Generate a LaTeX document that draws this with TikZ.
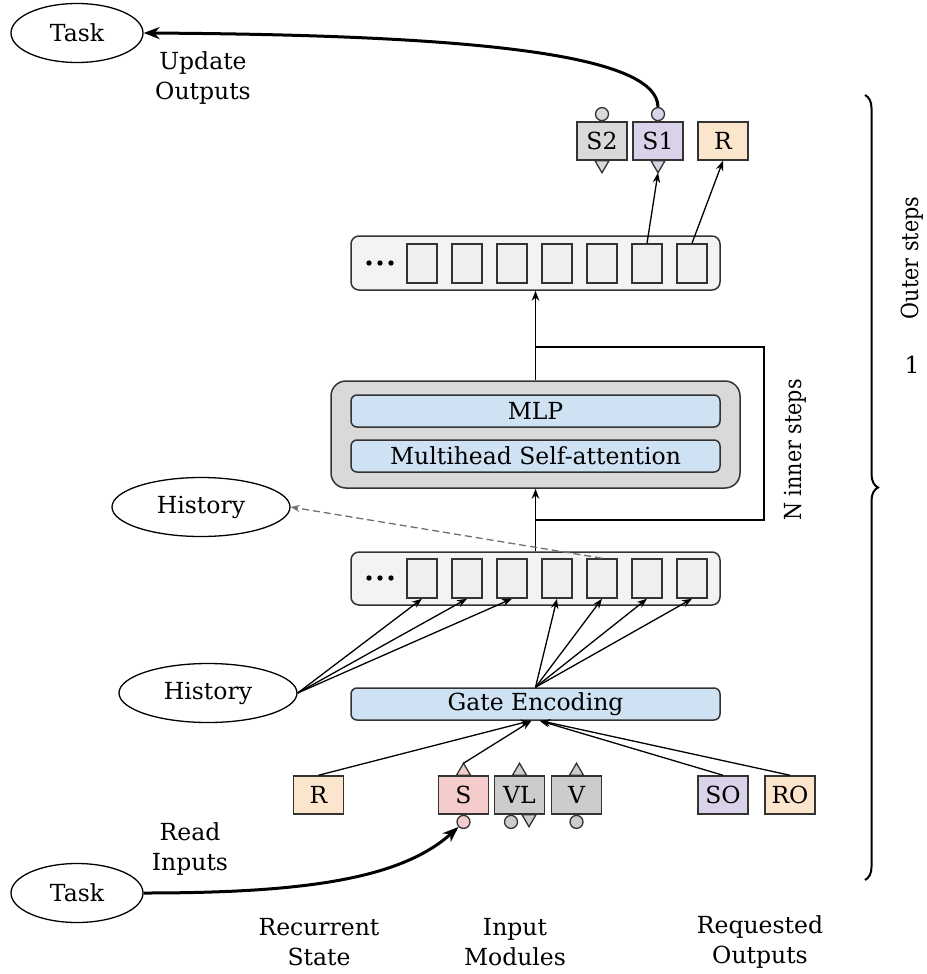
\documentclass[tikz,border=0pt]{standalone}
\usepackage{fontspec}
\setmainfont{DejaVu Serif}
\usetikzlibrary{shapes.geometric,arrows.meta,decorations.pathreplacing}
\definecolor{peach}{HTML}{FCE5CD}
\definecolor{lav}{HTML}{D9D2E9}
\definecolor{pinkc}{HTML}{F4CCCC}
\definecolor{grayA}{HTML}{D9D9D9}
\definecolor{grayB}{HTML}{CCCCCC}
\definecolor{bluec}{HTML}{CFE2F3}
\definecolor{seqc}{HTML}{F3F3F3}
\definecolor{cellc}{HTML}{EFEFEF}
\definecolor{edge}{HTML}{333333}
\definecolor{dashc}{HTML}{707070}
\begin{document}
\begin{tikzpicture}[x=1pt,y=-1pt,
  every node/.style={font=\fontsize{23.5}{30}\selectfont},
  ell/.style={ellipse, draw, line width=1.3pt, minimum width=132pt, minimum height=59pt, inner sep=0pt},
  hist/.style={ell, minimum width=178pt},
  tbox/.style={draw=edge, line width=1.5pt, minimum width=50pt, minimum height=38pt, inner sep=0pt},
  cell/.style={draw=edge, line width=1.5pt, fill=cellc, minimum width=30pt, minimum height=39pt, inner sep=0pt},
  bar/.style={draw=edge, line width=1.5pt, rounded corners=6pt, minimum width=369pt, minimum height=32pt, inner sep=0pt},
  port/.style={circle, draw=edge, line width=1.3pt, minimum size=13pt, inner sep=0pt},
  tri/.style={draw=edge, line width=1.3pt},
  conn/.style={line width=1.3pt, -{Stealth[length=10pt,width=7.5pt]}},
  big/.style={line width=3pt, -{Stealth[length=16pt,width=12pt]}},
  lbl/.style={align=center, inner sep=0pt}
]
\useasboundingbox (0,0) rectangle (926,974);

% ellipses
\node[ell] (task1) at (77,33) {Task};
\node[ell] (task2) at (77,893) {Task};
\node[hist] (hist1) at (201,507) {History};
\node[hist] (hist2) at (208,693) {History};

% top output boxes
\node[tbox, fill=grayA] (s2) at (602,141) {S2};
\node[tbox, fill=lav] (s1) at (658,141) {S1};
\node[tbox, fill=peach] (rt) at (723,141) {R};
\node[port, fill=grayA, anchor=south] (s2c) at (s2.north) {};
\node[port, fill=lav, anchor=south] (s1c) at (s1.north) {};
\draw[tri, fill=grayA] ([xshift=-7pt]s2.south) -- ([xshift=7pt]s2.south) -- ([yshift=-12pt]s2.south) -- cycle;
\draw[tri, fill=lav] ([xshift=-7pt]s1.south) -- ([xshift=7pt]s1.south) -- ([yshift=-12pt]s1.south) -- cycle;
\coordinate (s1tip) at ([yshift=-12pt]s1.south);

% sequences
\node[bar, fill=seqc, minimum height=54pt, rounded corners=8pt] (seq1) at (535.5,263) {};
\node[bar, fill=seqc, minimum height=53pt, rounded corners=8pt] (seq2) at (535.5,578.5) {};
\foreach \i/\x in {1/422,2/467,3/512,4/557,5/602,6/647,7/692}{
  \node[cell] (a\i) at (\x,263.5) {};
  \node[cell] (b\i) at (\x,578.5) {};
}
\foreach \x in {369,380,391}{
  \fill (\x,263) circle (2.7pt);
  \fill (\x,578) circle (2.7pt);
}

% transformer
\node[draw=edge, line width=1.5pt, fill=grayA, rounded corners=15pt, minimum width=409pt, minimum height=107pt] (tr) at (535.5,434.5) {};
\node[bar, fill=bluec] (mlp) at (535.5,411) {MLP};
\node[bar, fill=bluec] (mhsa) at (535.5,456) {Multihead Self-attention};
\node[bar, fill=bluec] (gate) at (535.5,704) {Gate Encoding};

% bottom input boxes
\node[tbox, fill=peach] (rb) at (318.5,795) {R};
\node[tbox, fill=pinkc] (sb) at (463.5,795) {S};
\node[tbox, fill=grayB] (vl) at (519.5,795) {VL};
\node[tbox, fill=grayB] (vv) at (576.5,795) {V};
\node[tbox, fill=lav] (so) at (723,795) {SO};
\node[tbox, fill=peach] (ro) at (790,795) {RO};
\draw[tri, fill=pinkc] ([xshift=-7pt]sb.north) -- ([xshift=7pt]sb.north) -- ([yshift=12pt]sb.north) -- cycle;
\coordinate (stip) at ([yshift=12pt]sb.north);
\draw[tri, fill=grayB] ([xshift=-7pt]vl.north) -- ([xshift=7pt]vl.north) -- ([yshift=12pt]vl.north) -- cycle;
\draw[tri, fill=grayB] ([xshift=-7pt]vv.north) -- ([xshift=7pt]vv.north) -- ([yshift=12pt]vv.north) -- cycle;
\node[port, fill=pinkc, anchor=north] (sc) at (sb.south) {};
\node[port, fill=grayB, anchor=north] (vlc) at ([xshift=-8.5pt]vl.south) {};
\draw[tri, fill=grayB] ([xshift=2.5pt]vl.south) -- ([xshift=16.5pt]vl.south) -- ([xshift=9.5pt,yshift=-12pt]vl.south) -- cycle;
\node[port, fill=grayB, anchor=north] (vc) at (vv.south) {};

% connectors
\draw[conn] (a6.north) -- (s1tip);
\draw[conn] (a7.north) -- (rt.south);
\draw[conn] (tr.north) -- (seq1.south);
\draw[line width=1.3pt] (535.5,347) -- (764,347) -- (764,520) -- (535.5,520);
\draw[conn] (seq2.north) -- (tr.south);
\draw[line width=1.3pt, draw=dashc, dash pattern=on 7pt off 4pt, -{Stealth[length=9pt,width=7pt]}] (b5.north) -- (hist1.east);
\foreach \i in {4,5,6,7} \draw[conn] (gate.north) -- (b\i.south);
\foreach \i in {1,2,3} \draw[conn] (hist2.east) -- (b\i.south);
\draw[conn] (rb.north) -- ([xshift=-5pt]gate.south);
\draw[conn] (stip) -- ([xshift=-4pt]gate.south);
\draw[conn] (so.north) -- ([xshift=4pt]gate.south);
\draw[conn] (ro.north) -- ([xshift=5pt]gate.south);

\draw[big] (s1c.north) .. controls (657,55) and (480,35) .. (task1.east);
\draw[big] (task2.east) .. controls (300,893) and (400,880) .. (sc.south west);

% labels
\node[lbl] (upd) at (203,78) {Update\\Outputs};
\node[lbl] (rdi) at (190,849) {Read\\Inputs};
\node[lbl] (rec) at (319,942) {Recurrent\\State};
\node[lbl] (inm) at (515,942) {Input\\Modules};
\node[lbl] (req) at (760,942) {Requested\\Outputs};
\node[lbl, rotate=90] (inner) at (795,450) {\scalebox{0.88}[1]{N inner steps}};
\node[lbl, rotate=90] (outer) at (912,258) {\scalebox{0.88}[1]{Outer steps}};
\node[lbl] (one) at (912,365) {1};

\draw[line width=2pt, decorate, decoration={brace, amplitude=13pt}] (865,95) -- (865,880);
\end{tikzpicture}
\end{document}
